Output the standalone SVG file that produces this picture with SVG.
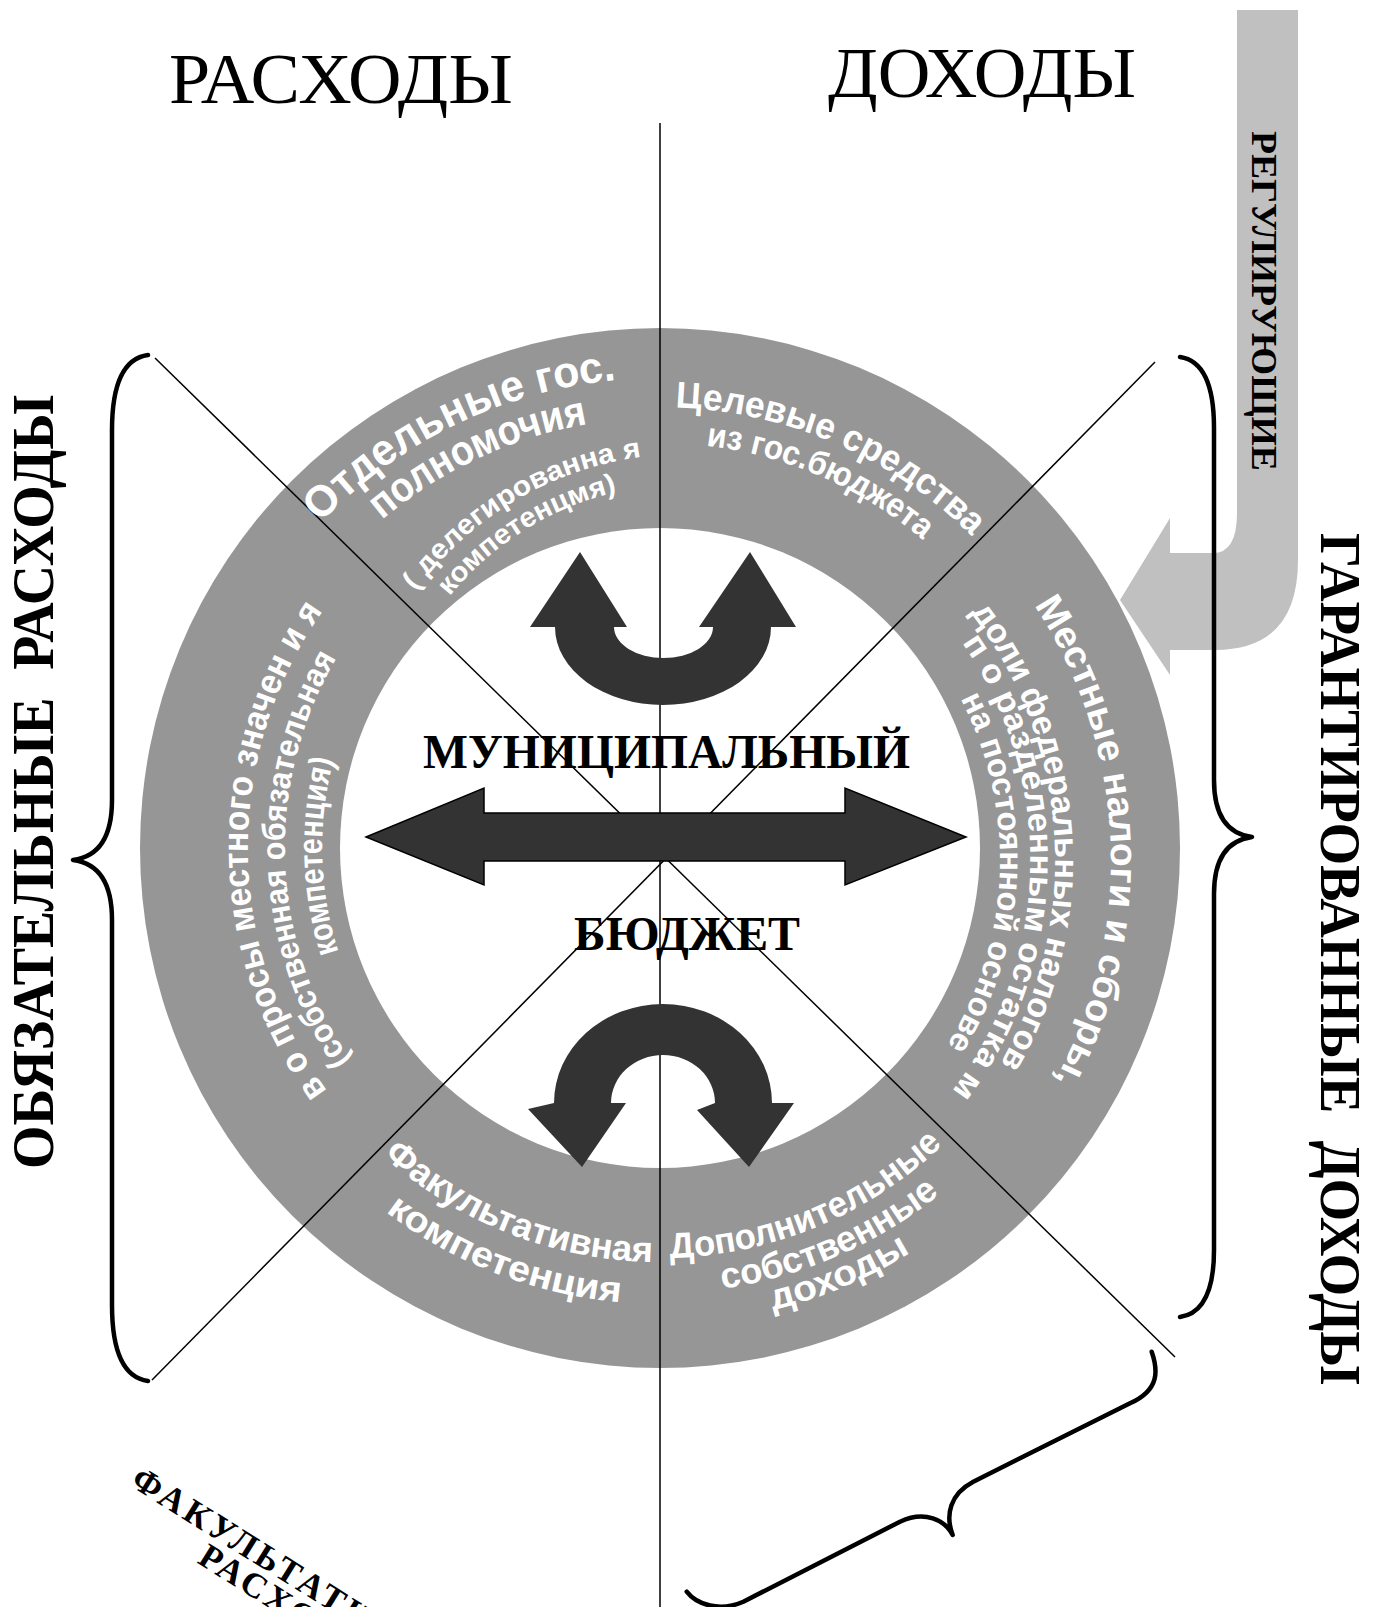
<svg xmlns="http://www.w3.org/2000/svg" xmlns:xlink="http://www.w3.org/1999/xlink" width="1382" height="1607" viewBox="0 0 1382 1607">
<style>
.rt{font-family:"Liberation Sans",Arial,sans-serif;font-weight:bold;fill:#fff}
.sb{font-family:"Liberation Serif","Times New Roman",serif;font-weight:bold;fill:#000}
.sr{font-family:"Liberation Serif","Times New Roman",serif;fill:#000}
.ln{stroke:#000;stroke-width:1.5;fill:none}
.br{stroke:#000;stroke-width:4.5;fill:none;stroke-linecap:round;stroke-linejoin:round}
.arr{fill:#333}
</style>
<defs>
<path id="tl1" d="M206,969.6 A470,470 0 0 1 1045,578.4"/>
<path id="tl2" d="M244.7,959.3 A430,430 0 0 1 1012.3,601.4"/>
<path id="tl3" d="M373.6,905 A333,333 0 0 1 937.3,569.7"/>
<path id="tl4" d="M404.1,900.5 A303,303 0 0 1 910.2,584.3"/>
<path id="tr1" d="M292.3,604.6 A441,441 0 0 1 1088.8,950.9"/>
<path id="tr2" d="M322.3,624.5 A405,405 0 0 1 1053.8,942.5"/>
<path id="r1" d="M710.2,403 A461,461 0 0 1 749.8,1310.1"/>
<path id="r2" d="M694.1,457.4 A405,405 0 0 1 746.3,1253.4"/>
<path id="r3" d="M719.2,486.3 A380,380 0 0 1 712.7,1234.8"/>
<path id="r4" d="M724.3,518 A350,350 0 0 1 697.2,1206.8"/>
<path id="l1" d="M592,1254.4 A412,412 0 0 1 584.9,442.9"/>
<path id="l2" d="M607.8,1219.4 A375,375 0 0 1 582,481.2"/>
<path id="l3" d="M609.5,1182.2 A338,338 0 0 1 593.2,516.7"/>
<path id="bl1" d="M254.3,765.4 A414,414 0 0 0 1013,1064.3"/>
<path id="bl2" d="M212.4,761 A456,456 0 0 0 1050.9,1082.8"/>
<path id="br1" d="M314.2,1068.3 A410,410 0 0 0 1060.3,759.3"/>
<path id="br2" d="M288.9,1093.6 A445,445 0 0 0 1092.7,744.1"/>
<path id="br3" d="M259.7,1105.5 A476,476 0 0 0 1124.2,742.9"/>
</defs>
<rect x="0" y="0" width="1382" height="1607" fill="#fff"/>

<g id="regulating-arrow">
<path d="M1237,10 L1298,10 L1298,560 Q1298,650 1215,650 L1170,650 L1170,675 L1120,600 L1170,518 L1170,553 L1213,553 Q1237,553 1237,513 Z" fill="#c0c0c0"/>
<text class="sb" font-size="35" transform="translate(1252,131) rotate(90)" textLength="340" lengthAdjust="spacingAndGlyphs">РЕГУЛИРУЮЩИЕ</text>
</g>

<g id="ring">
<circle cx="660" cy="848" r="520" fill="#969696"/>
<circle cx="660" cy="848" r="320" fill="#fff"/>
</g>

<g id="connectors">
<path class="ln" d="M660,123 V1607"/>
<path class="ln" d="M155,358 L1175,1357"/>
<path class="ln" d="M1155,362 L152,1380"/>
</g>

<g id="delegated">
<text class="rt" font-size="44"><textPath xlink:href="#tl1" href="#tl1" startOffset="49.5%" text-anchor="middle" textLength="336" lengthAdjust="spacingAndGlyphs">Отдельные гос.</textPath></text>
<text class="rt" font-size="42"><textPath xlink:href="#tl2" href="#tl2" startOffset="50%" text-anchor="middle" textLength="230" lengthAdjust="spacingAndGlyphs">полномочия</textPath></text>
<text class="rt" font-size="28"><textPath xlink:href="#tl3" href="#tl3" startOffset="50%" text-anchor="middle" textLength="270" lengthAdjust="spacingAndGlyphs">( делегированна я</textPath></text>
<text class="rt" font-size="28"><textPath xlink:href="#tl4" href="#tl4" startOffset="50%" text-anchor="middle" textLength="201" lengthAdjust="spacingAndGlyphs">компетенцмя)</textPath></text>
</g>

<g id="target-funds">
<text class="rt" font-size="37"><textPath xlink:href="#tr1" href="#tr1" startOffset="50%" text-anchor="middle" textLength="331" lengthAdjust="spacingAndGlyphs">Целевые средства</textPath></text>
<text class="rt" font-size="34"><textPath xlink:href="#tr2" href="#tr2" startOffset="50%" text-anchor="middle" textLength="240" lengthAdjust="spacingAndGlyphs">из гос.бюджета</textPath></text>
</g>

<g id="local-taxes">
<text class="rt" font-size="38"><textPath xlink:href="#r1" href="#r1" startOffset="50%" text-anchor="middle" textLength="500" lengthAdjust="spacingAndGlyphs">Местные налоги и сборы,</textPath></text>
<text class="rt" font-size="34"><textPath xlink:href="#r2" href="#r2" startOffset="50%" text-anchor="middle" textLength="480" lengthAdjust="spacingAndGlyphs">доли федеральных налогов</textPath></text>
<text class="rt" font-size="33"><textPath xlink:href="#r3" href="#r3" startOffset="50.5%" text-anchor="middle" textLength="480" lengthAdjust="spacingAndGlyphs">п о разделенным остатка м</textPath></text>
<text class="rt" font-size="33"><textPath xlink:href="#r4" href="#r4" startOffset="50%" text-anchor="middle" textLength="363" lengthAdjust="spacingAndGlyphs">на постоянной основе</textPath></text>
</g>

<g id="local-issues">
<text class="rt" font-size="36"><textPath xlink:href="#l1" href="#l1" startOffset="50%" text-anchor="middle" textLength="513" lengthAdjust="spacingAndGlyphs">в о просы местного значен и я</textPath></text>
<text class="rt" font-size="33"><textPath xlink:href="#l2" href="#l2" startOffset="50%" text-anchor="middle" textLength="425" lengthAdjust="spacingAndGlyphs">(собственная обязательная</textPath></text>
<text class="rt" font-size="34"><textPath xlink:href="#l3" href="#l3" startOffset="50%" text-anchor="middle" textLength="195" lengthAdjust="spacingAndGlyphs">компетенция)</textPath></text>
</g>

<g id="optional-competence">
<text class="rt" font-size="36"><textPath xlink:href="#bl1" href="#bl1" startOffset="50%" text-anchor="middle" textLength="296" lengthAdjust="spacingAndGlyphs">Факультативная</textPath></text>
<text class="rt" font-size="36"><textPath xlink:href="#bl2" href="#bl2" startOffset="50%" text-anchor="middle" textLength="255" lengthAdjust="spacingAndGlyphs">компетенция</textPath></text>
</g>

<g id="extra-income">
<text class="rt" font-size="36"><textPath xlink:href="#br1" href="#br1" startOffset="50%" text-anchor="middle" textLength="302" lengthAdjust="spacingAndGlyphs">Дополнительные</textPath></text>
<text class="rt" font-size="36"><textPath xlink:href="#br2" href="#br2" startOffset="50%" text-anchor="middle" textLength="240" lengthAdjust="spacingAndGlyphs">собственные</textPath></text>
<text class="rt" font-size="36"><textPath xlink:href="#br3" href="#br3" startOffset="50%" text-anchor="middle" textLength="150" lengthAdjust="spacingAndGlyphs">доходы</textPath></text>
</g>

<g id="upper-arrow">
<path class="arr" d="M530,627 L580,552 L627,627 L614,627 A49.5,31 0 0 0 713,627 L699,627 L750,552 L796,627 L771,627 A108,78 0 0 1 555,627 Z"/>
</g>
<g id="lower-arrow">
<path class="arr" d="M528,1109 L582,1167 L626,1103 L611,1103 A52,48 0 0 1 715,1103 L697,1110 L749,1167 L794,1103 L772,1103 A109,99 0 0 0 554,1103 Z"/>
</g>
<g id="horizontal-arrow">
<path class="arr" d="M366,837 L484,788 L484,813 L845,813 L845,788 L966,837 L845,885 L845,861 L484,861 L484,885 Z" stroke="#000" stroke-width="1.5" stroke-linejoin="miter"/>
</g>

<g id="budget">
<text class="sb" x="423" y="768" font-size="48" textLength="487" lengthAdjust="spacingAndGlyphs">МУНИЦИПАЛЬНЫЙ</text>
<text class="sb" x="574" y="950" font-size="48" textLength="226" lengthAdjust="spacingAndGlyphs">БЮДЖЕТ</text>
</g>

<g id="braces">
<path class="br" d="M148,355 Q112,360 112,430 L112,800 Q112,855 73,860 Q112,865 112,920 L112,1305 Q112,1376 148,1381"/>
<path class="br" d="M1180,357 Q1214,362 1214,428 L1214,780 Q1214,832 1252,837 Q1214,842 1214,894 L1214,1250 Q1214,1312 1180,1317"/>
<path class="br" d="M1151.7,1351.7 C1158,1370 1160,1390 1130,1403.3 L973.3,1481.7 C950,1494 945,1515 952.7,1535 C945,1520 925,1510 900,1521.7 L743.3,1601.7 C720,1612 697,1605 686.7,1591.7"/>
</g>

<g id="titles">
<text class="sr" x="169" y="103" font-size="72" textLength="344" lengthAdjust="spacingAndGlyphs">РАСХОДЫ</text>
<text class="sr" x="828" y="97" font-size="72" textLength="308" lengthAdjust="spacingAndGlyphs">ДОХОДЫ</text>
<text class="sb" font-size="60" transform="translate(53,1169) rotate(-90)" textLength="774" lengthAdjust="spacingAndGlyphs" style="white-space:pre">ОБЯЗАТЕЛЬНЫЕ  РАСХОДЫ</text>
<text class="sb" font-size="56" transform="translate(1321,533) rotate(90)" textLength="852" lengthAdjust="spacingAndGlyphs" style="white-space:pre">ГАРАНТИРОВАННЫЕ  ДОХОДЫ</text>
<g transform="translate(129,1485) rotate(32)">
<text class="sb" x="0" y="0" font-size="35" letter-spacing="4">ФАКУЛЬТАТИВНЫЕ</text>
<text class="sb" x="98" y="30" font-size="35" letter-spacing="4">РАСХОДЫ</text>
</g>
</g>
</svg>
